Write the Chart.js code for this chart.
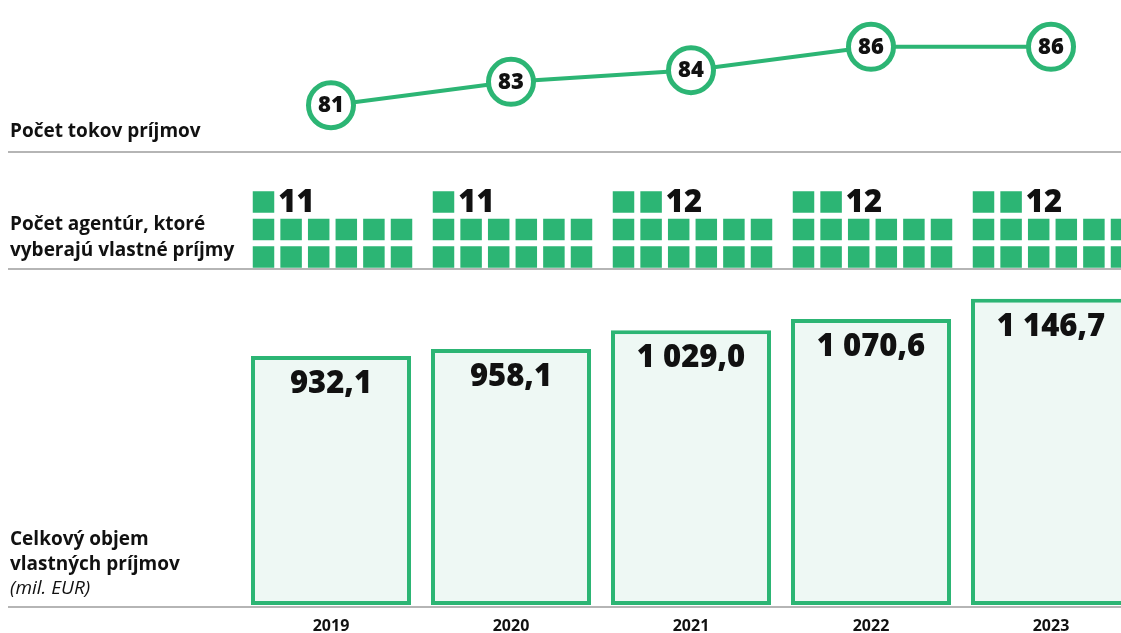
<!DOCTYPE html>
<html>
<head>
<meta charset="utf-8">
<script src="https://cdn.jsdelivr.net/npm/chart.js@4.4.1/dist/chart.umd.min.js"></script>
<style>
  body { margin: 0; background: #fff; overflow: hidden; font-family: 'Open Sans', sans-serif; }
  #wrap { position: relative; width: 1121px; height: 633px; overflow: hidden; }
  canvas { position: absolute; left: 0; }
  .lbl { position: absolute; left: 10px; font-weight: 700; font-size: 19px; color: #111; white-space: nowrap; }
  .lbl i { font-weight: 400; }
  .rule { position: absolute; left: 8px; width: 1113px; height: 2px; background: #b5b5b5; }
</style>
</head>
<body>
<div id="wrap">
  <canvas id="streams" width="1141" height="152" style="top:0;width:1141px;height:152px"></canvas>
  <canvas id="agencies" width="1141" height="117" style="top:152px;width:1141px;height:117px"></canvas>
  <canvas id="revenue" width="1141" height="364" style="top:269px;width:1141px;height:364px"></canvas>

  <div class="rule" style="top:151px"></div>
  <div class="rule" style="top:268px"></div>
  <div class="rule" style="top:606px"></div>

  <div class="lbl" style="top:118px;line-height:25px">Počet tokov príjmov</div>
  <div class="lbl" style="top:210px;line-height:26px">Počet agentúr, ktoré<br>vyberajú vlastné príjmy</div>
  <div class="lbl" style="top:526px;line-height:24.5px">Celkový objem<br>vlastných príjmov<br><i>(mil. EUR)</i></div>
</div>

<script>
// data
const years = ['2019', '2020', '2021', '2022', '2023'];
const incomeStreams = [81, 83, 84, 86, 86];
const agencyCount = [11, 11, 12, 12, 12];
const agencySquares = [13, 13, 14, 14, 14];
const ownRevenue = [932.1, 958.1, 1029.0, 1070.6, 1146.7];

const GREEN = '#2cb574';
const PALE = '#eef8f4';
const INK = '#111';
const LEFT = 241;       // chart area starts here, one column = 180px
const COL_W = 180;
const COLS = 6, PITCH = 27.6, SIDE = 21.5;

Chart.defaults.font.family = "'Open Sans', sans-serif";
Chart.defaults.color = INK;

// slovak number format: 1 029,0
function fmt(v) {
    const parts = v.toFixed(1).split('.');
    return parts[0].replace(/\B(?=(\d{3})+(?!\d))/g, ' ') + ',' + parts[1];
}

// x offset (in column units) of a square column inside the year slot
function colOffset(j) {
    return (-67.5 + PITCH * j) / COL_W;
}

const baseOptions = () => ({
    responsive: false,
    animation: false,
    layout: { autoPadding: false, padding: { left: LEFT, right: 0, top: 0, bottom: 0 } },
    plugins: { legend: { display: false }, tooltip: { enabled: false } }
});
const xHidden = { type: 'linear', min: -0.5, max: 4.5, offset: false, display: false };

// --- top: income streams line ---
new Chart(document.getElementById('streams'), {
    type: 'line',
    data: {
        datasets: [{
            data: incomeStreams.map((v, i) => ({ x: i, y: v })),
            borderColor: GREEN,
            borderWidth: 4,
            tension: 0,
            pointRadius: 22.5,
            pointBorderWidth: 5,
            pointBackgroundColor: '#fff',
            pointBorderColor: GREEN,
            clip: false
        }]
    },
    options: Object.assign(baseOptions(), {
        scales: { x: xHidden, y: { min: 77, max: 90, display: false } }
    }),
    plugins: [{
        id: 'circleLabels',
        afterDatasetsDraw(chart) {
            const ctx = chart.ctx;
            ctx.save();
            ctx.font = "800 22px 'Open Sans'";
            ctx.fillStyle = INK;
            ctx.textAlign = 'center';
            ctx.textBaseline = 'middle';
            chart.getDatasetMeta(0).data.forEach((pt, i) => {
                ctx.fillText(String(incomeStreams[i]), pt.x, pt.y + 1);
            });
            ctx.restore();
        }
    }]
});

// --- middle: agencies as squares ---
const squares = [];
agencySquares.forEach((n, i) => {
    for (let k = 0; k < n; k++) {
        squares.push({ x: i + colOffset(k % COLS), y: Math.floor(k / COLS) });
    }
});

new Chart(document.getElementById('agencies'), {
    type: 'scatter',
    data: {
        datasets: [{
            data: squares,
            pointStyle: 'rect',
            pointRadius: SIDE / Math.SQRT2,
            pointBorderWidth: 0,
            backgroundColor: GREEN,
            clip: false
        }]
    },
    options: Object.assign(baseOptions(), {
        scales: { x: xHidden, y: { min: -0.4364, max: 3.818, display: false } }
    }),
    plugins: [{
        id: 'agencyLabels',
        afterDatasetsDraw(chart) {
            const ctx = chart.ctx;
            const xs = chart.scales.x, ys = chart.scales.y;
            ctx.save();
            ctx.font = "800 31px 'Open Sans'";
            ctx.fillStyle = INK;
            ctx.textAlign = 'left';
            ctx.textBaseline = 'middle';
            agencyCount.forEach((v, i) => {
                const top = agencySquares[i] - 2 * COLS;
                const x = xs.getPixelForValue(i + colOffset(top - 1)) + SIDE / 2 + 4;
                ctx.fillText(String(v), x, ys.getPixelForValue(2) + 1);
            });
            ctx.restore();
        }
    }]
});

// --- bottom: own revenue bars ---
new Chart(document.getElementById('revenue'), {
    type: 'bar',
    data: {
        datasets: [{
            data: ownRevenue.map((v, i) => ({ x: i, y: v })),
            backgroundColor: PALE,
            borderColor: GREEN,
            borderWidth: 4,
            borderSkipped: false,
            categoryPercentage: 1,
            barPercentage: 160 / 180
        }]
    },
    options: Object.assign(baseOptions(), {
        scales: {
            x: {
                type: 'linear', min: -0.5, max: 4.5, offset: false,
                grid: { display: false, drawTicks: false, offset: false },
                border: { display: false },
                afterFit(s) { s.height = 28; },
                afterBuildTicks(s) { s.ticks = years.map((_, i) => ({ value: i })); },
                ticks: {
                    autoSkip: false, maxRotation: 0, padding: 12,
                    font: { size: 16, weight: '700' },
                    color: INK,
                    callback: v => years[v]
                }
            },
            y: { min: 0, max: 1258, display: false }
        }
    }),
    plugins: [{
        id: 'barLabels',
        afterDatasetsDraw(chart) {
            const ctx = chart.ctx;
            ctx.save();
            ctx.font = "800 31px 'Open Sans'";
            ctx.fillStyle = INK;
            ctx.textAlign = 'center';
            ctx.textBaseline = 'middle';
            chart.getDatasetMeta(0).data.forEach((bar, i) => {
                ctx.fillText(fmt(ownRevenue[i]), bar.x, bar.y + 28);
            });
            ctx.restore();
        }
    }]
});
</script>
</body>
</html>
